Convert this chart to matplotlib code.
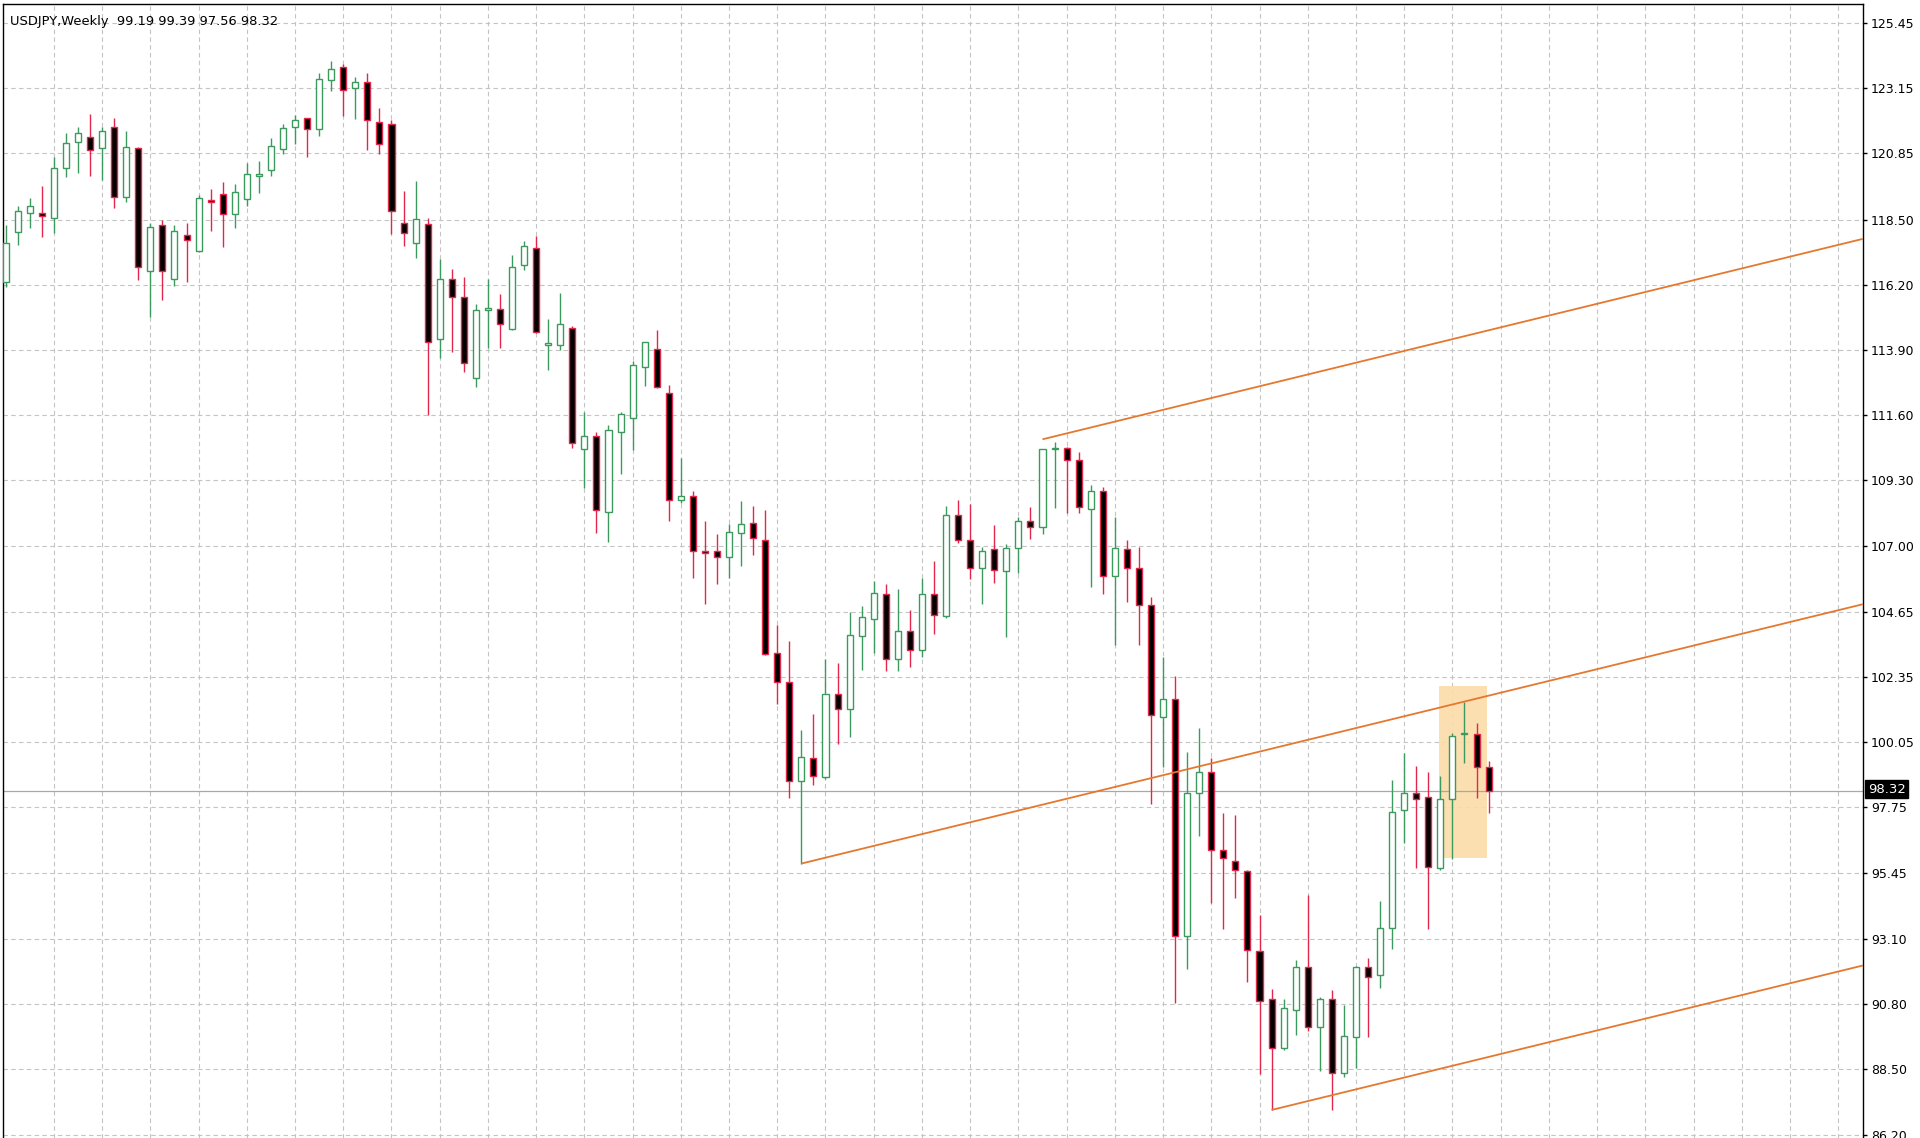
import numpy as np
import matplotlib.pyplot as plt
from matplotlib.patches import Rectangle

# header line of the chart window
chart_title = "USDJPY,Weekly  99.19 99.39 97.56 98.32"

# weekly candles, oldest first
opens = [116.32, 118.06, 118.73, 118.75, 118.58, 120.32, 121.26, 121.42, 121.03, 121.77,
         119.30, 121.03, 116.69, 118.32, 116.41, 117.96, 117.41, 119.20, 119.40, 118.71,
         119.22, 120.05, 120.26, 120.99, 121.78, 122.09, 121.70, 123.44, 123.91, 123.14,
         123.38, 121.96, 121.87, 118.40, 117.67, 118.34, 114.29, 116.40, 115.76, 112.90,
         115.31, 115.35, 114.65, 116.91, 117.49, 114.09, 114.08, 114.68, 110.41, 110.86,
         108.18, 111.00, 111.49, 113.32, 113.94, 112.38, 108.61, 108.76, 106.82, 106.82,
         106.59, 107.45, 107.80, 107.21, 103.19, 102.19, 98.68, 99.51, 98.84, 101.74,
         101.21, 103.82, 104.39, 105.27, 103.01, 103.98, 103.31, 105.27, 104.51, 108.09,
         107.21, 106.19, 106.86, 106.11, 106.92, 107.85, 107.64, 110.39, 110.44, 110.03,
         108.29, 108.94, 105.91, 106.86, 106.19, 104.90, 100.93, 101.57, 93.20, 98.26,
         98.99, 96.24, 95.85, 95.51, 92.70, 90.98, 89.25, 90.60, 92.13, 90.01,
         90.98, 88.37, 89.66, 92.13, 91.84, 93.49, 97.66, 98.25, 98.11, 95.63,
         98.04, 100.34, 100.34, 99.19]
highs = [118.32, 118.97, 119.26, 119.70, 120.73, 121.58, 121.79, 122.24, 121.79, 122.09,
         121.65, 121.06, 118.40, 118.49, 118.32, 118.40, 119.38, 119.58, 119.85, 119.77,
         120.50, 120.58, 121.38, 121.87, 122.19, 122.11, 123.70, 124.11, 123.99, 123.54,
         123.70, 122.46, 122.03, 119.50, 119.87, 118.56, 117.13, 116.76, 116.49, 115.52,
         116.40, 115.88, 117.24, 117.74, 117.94, 114.98, 115.92, 114.76, 111.73, 111.02,
         111.24, 111.73, 113.53, 114.18, 114.62, 112.67, 110.08, 108.92, 107.86, 107.41,
         107.76, 108.56, 108.41, 108.25, 104.21, 103.62, 100.48, 101.04, 102.98, 102.86,
         104.65, 104.86, 105.74, 105.65, 105.45, 104.71, 105.86, 106.45, 108.39, 108.60,
         108.47, 106.94, 107.74, 107.04, 108.01, 108.37, 110.39, 110.67, 110.47, 110.31,
         109.14, 109.07, 108.01, 107.20, 106.94, 105.18, 103.05, 102.38, 99.70, 100.56,
         99.50, 97.56, 97.48, 95.54, 93.96, 91.33, 90.98, 92.37, 94.66, 91.07,
         91.29, 90.78, 92.16, 92.43, 94.46, 98.72, 99.66, 99.21, 99.01, 98.86,
         100.37, 101.49, 100.74, 99.39]
lows = [116.14, 117.61, 118.20, 117.91, 118.05, 120.00, 120.14, 120.06, 119.91, 118.91,
        119.14, 116.37, 115.08, 115.67, 116.17, 116.32, 117.35, 118.12, 117.55, 118.20,
        118.99, 119.44, 120.03, 120.81, 121.17, 120.73, 121.46, 123.05, 122.17, 122.05,
        120.97, 120.81, 118.01, 117.58, 117.14, 111.61, 113.61, 113.84, 113.11, 112.61,
        113.96, 113.97, 114.60, 116.73, 114.50, 113.20, 113.91, 110.45, 109.02, 107.44,
        107.14, 109.53, 110.38, 112.62, 112.55, 107.86, 108.49, 105.86, 104.92, 105.65,
        105.86, 106.29, 106.68, 103.15, 101.41, 98.09, 95.77, 98.53, 98.76, 99.98,
        100.25, 102.62, 103.21, 102.56, 102.56, 102.71, 103.06, 103.86, 104.45, 107.09,
        105.80, 104.95, 105.66, 103.78, 106.03, 107.23, 107.39, 108.32, 108.13, 108.16,
        105.52, 105.29, 103.47, 105.02, 103.50, 97.87, 99.19, 90.84, 92.04, 96.75,
        94.37, 93.47, 94.56, 91.60, 88.33, 87.07, 89.20, 89.72, 89.87, 88.43,
        87.07, 88.23, 88.54, 89.64, 91.37, 92.74, 96.49, 95.63, 93.45, 95.55,
        95.92, 99.31, 98.07, 97.56]
closes = [117.67, 118.81, 118.97, 118.64, 120.34, 121.20, 121.56, 120.97, 121.64, 119.30,
          121.06, 116.85, 118.26, 116.70, 118.11, 117.79, 119.26, 119.14, 118.71, 119.47,
          120.11, 120.13, 121.09, 121.73, 122.01, 121.70, 123.46, 123.81, 123.07, 123.38,
          122.01, 121.19, 118.81, 118.05, 118.54, 114.20, 116.40, 115.79, 113.43, 115.31,
          115.37, 114.83, 116.85, 117.56, 114.53, 114.16, 114.82, 110.62, 110.86, 108.26,
          111.08, 111.65, 113.39, 114.18, 112.59, 108.62, 108.76, 106.82, 106.74, 106.59,
          107.47, 107.76, 107.27, 103.18, 102.18, 98.68, 99.53, 98.86, 101.74, 101.21,
          103.84, 104.48, 105.33, 103.01, 103.98, 103.31, 105.27, 104.54, 108.09, 107.19,
          106.19, 106.80, 106.13, 106.92, 107.85, 107.64, 110.39, 110.44, 110.03, 108.37,
          108.94, 105.93, 106.92, 106.22, 104.90, 101.01, 101.57, 93.20, 98.26, 98.99,
          96.24, 95.97, 95.54, 92.71, 90.90, 89.25, 90.66, 92.13, 90.01, 90.98,
          88.37, 89.69, 92.13, 91.76, 93.49, 97.60, 98.25, 98.04, 95.64, 98.04,
          100.27, 100.37, 99.17, 98.32]

# right price scale
price_ticks = [125.45, 123.15, 120.85, 118.50, 116.20, 113.90, 111.60, 109.30, 107.00,
               104.65, 102.35, 100.05, 97.75, 95.45, 93.10, 90.80, 88.50, 86.20]
last_price = 98.32

# channel lines: starting bar, starting price, common slope per bar
channel_bars = [86, 66, 105]
channel_prices = [110.75, 95.77, 87.07]
channel_slope = 0.104

# highlighted zone (bars and price range)
zone_bars = [118.9, 122.9]
zone_prices = [95.97, 102.04]

BULL = '#3C9A5E'
BEAR = '#E3264B'
ORANGE = '#E5782F'
GRID = '#C4C4C4'

fig = plt.figure(figsize=(19.2, 11.38), dpi=100)
ax = fig.add_axes([0.0014, 0.0, 0.9688, 0.9965])
x_left, x_right = -0.25, 154.04
ax.set_xlim(x_left, x_right)
ax.set_ylim(86.08, 126.12)

# dashed grid: every 4 bars and at each price label
for gx in range(4, int(x_right) + 1, 4):
    ax.axvline(gx, color=GRID, lw=0.8, ls=(0, (4, 3)), zorder=1)
for gy in price_ticks:
    ax.axhline(gy, color=GRID, lw=0.8, ls=(0, (4, 3)), zorder=1)

# highlight box
ax.add_patch(Rectangle((zone_bars[0], zone_prices[0]), zone_bars[1] - zone_bars[0],
                       zone_prices[1] - zone_prices[0], facecolor='#FBDCA8',
                       edgecolor='none', alpha=0.9, zorder=2))

# last price line
ax.axhline(last_price, color='#A8A8A8', lw=0.9, zorder=2.2)

o = np.array(opens)
h = np.array(highs)
l = np.array(lows)
c = np.array(closes)
x = np.arange(len(o))
up = c >= o
edge = np.where(up, BULL, BEAR)
face = np.where(up, 'white', 'black')

ax.vlines(x, l, h, colors=edge, lw=1.0, zorder=3)
ax.bar(x, np.abs(c - o), bottom=np.minimum(o, c), width=0.5, color=face,
       edgecolor=edge, linewidth=1.0, zorder=4)

# channel lines drawn to the right edge
for b0, p0 in zip(channel_bars, channel_prices):
    ax.plot([b0, x_right], [p0, p0 + channel_slope * (x_right - b0)],
            color=ORANGE, lw=1.3, zorder=5, solid_capstyle='butt')

# frame and price scale
for side in ['left', 'top', 'right']:
    ax.spines[side].set_color('black')
    ax.spines[side].set_linewidth(1.0)
ax.spines['bottom'].set_visible(False)
ax.set_xticks([])
ax.yaxis.tick_right()
ax.set_yticks(price_ticks)
ax.set_yticklabels([f'{t:.2f}' for t in price_ticks])
ax.tick_params(axis='y', direction='out', length=3, width=1, labelsize=9,
               pad=3, colors='black')

ax.annotate(f'{last_price:.2f}', xy=(1, last_price), xycoords=('axes fraction', 'data'),
            xytext=(5, 2), textcoords='offset pixels', va='center', ha='left',
            fontsize=9.5, color='white',
            bbox=dict(boxstyle='square,pad=0.2', facecolor='black', edgecolor='black'))

fig.text(10 / 1920, 1 - 21.5 / 1138, chart_title, ha='left', va='center',
         fontsize=9.4, color='black')

fig.savefig('out.png', dpi=100)
